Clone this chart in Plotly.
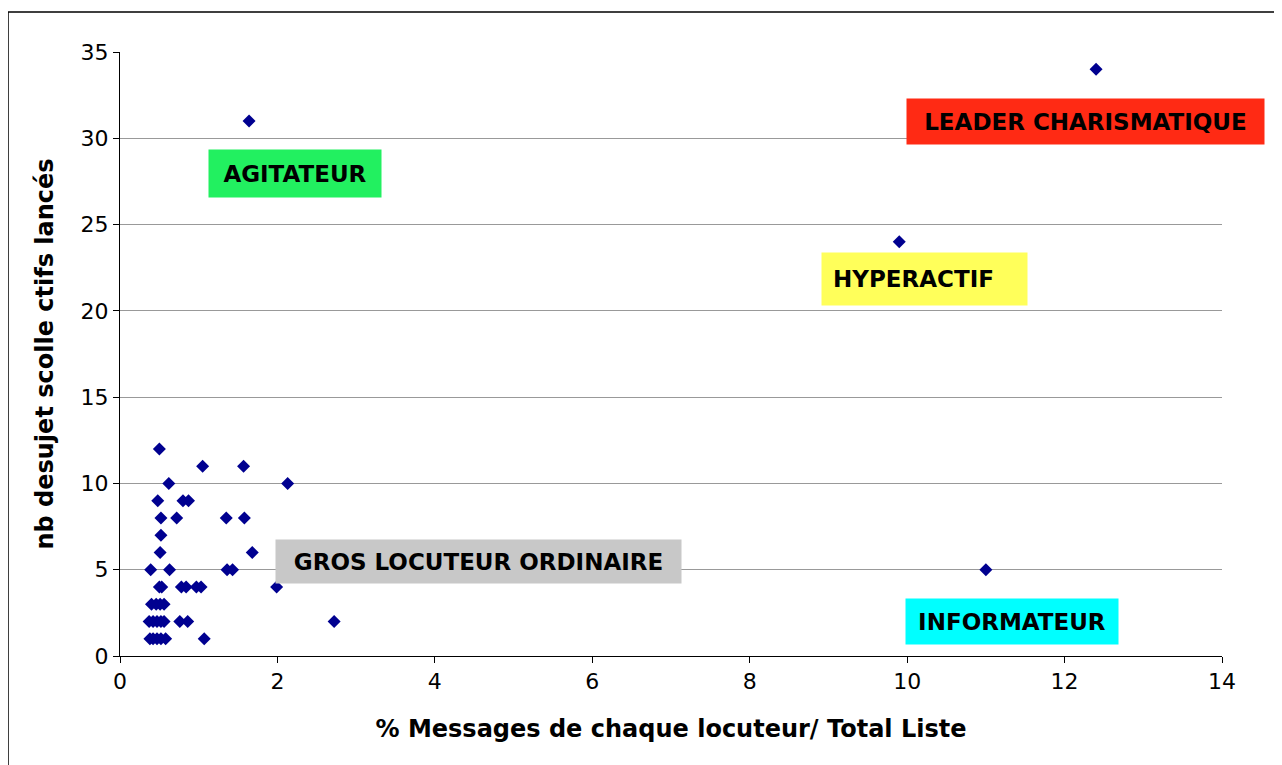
import plotly.graph_objects as go

# Data
x_vals = [
    1.64, 12.40, 9.90, 11.00,
    0.50,
    1.05, 1.57,
    0.62, 2.13,
    0.48, 0.80, 0.87,
    0.52, 0.72, 1.35, 1.58,
    0.52,
    0.51, 1.68,
    0.39, 0.63, 1.36, 1.43,
    0.50, 0.53, 0.78, 0.84, 0.97, 1.03, 1.99,
    0.40, 0.46, 0.51, 0.56,
    0.37, 0.42, 0.47, 0.52, 0.56, 0.76, 0.86, 2.72,
    0.38, 0.42, 0.47, 0.52, 0.58, 1.07,
]
y_vals = [
    31, 34, 24, 5,
    12,
    11, 11,
    10, 10,
    9, 9, 9,
    8, 8, 8, 8,
    7,
    6, 6,
    5, 5, 5, 5,
    4, 4, 4, 4, 4, 4, 4,
    3, 3, 3, 3,
    2, 2, 2, 2, 2, 2, 2, 2,
    1, 1, 1, 1, 1, 1,
]

labels = ["AGITATEUR", "LEADER CHARISMATIQUE", "HYPERACTIF", "INFORMATEUR", "GROS LOCUTEUR ORDINAIRE"]
label_x = [2.22, 12.26, 10.22, 11.33, 4.56]
label_y = [27.98, 30.97, 21.84, 2.0, 5.45]
label_colors = ["#22f060", "#ff2a14", "#ffff5a", "#00ffff", "#c8c8c8"]

x_ticks = [0, 2, 4, 6, 8, 10, 12, 14]
y_ticks = [0, 5, 10, 15, 20, 25, 30, 35]

FONT = "DejaVu Sans"

fig = go.Figure()
fig.add_trace(go.Scatter(
    x=x_vals, y=y_vals, mode="markers",
    marker=dict(symbol="diamond", size=10, color="#000090"),
    showlegend=False, hoverinfo="x+y",
))

box_sizes = [(172, 47), (357, 45), (205, 52), (212, 45), (405, 43)]
for t, lx, ly, c, (w, h) in zip(labels, label_x, label_y, label_colors, box_sizes):
    txt = "<b>" + t + "</b>"
    if t == "HYPERACTIF":
        txt += "&nbsp;" * 3
    fig.add_annotation(
        x=lx, y=ly, xref="x", yref="y", text=txt, showarrow=False,
        bgcolor=c, width=w, height=h, borderpad=0,
        align="center",
        font=dict(family=FONT, size=23, color="black"),
    )

fig.update_layout(
    width=1274, height=757,
    margin=dict(l=112, r=60, t=44, b=109),
    paper_bgcolor="white", plot_bgcolor="white",
    font=dict(family=FONT, color="black"),
    xaxis=dict(
        range=[0, 14], tickvals=x_ticks, showgrid=False, zeroline=False,
        showline=True, linecolor="black", linewidth=1,
        ticks="outside", ticklen=6, tickcolor="black",
        tickfont=dict(size=22),
        title=dict(text="<b>% Messages de chaque locuteur/ Total Liste</b>", font=dict(size=24), standoff=26),
    ),
    yaxis=dict(
        range=[0, 35], tickvals=y_ticks, showgrid=True, gridcolor="#999999", gridwidth=1,
        zeroline=False, showline=True, linecolor="black", linewidth=1,
        ticks="outside", ticklen=6, tickcolor="black",
        tickfont=dict(size=22),
        title=dict(text="<b>nb desujet scolle ctifs lancés</b>", font=dict(size=24), standoff=20),
    ),
    shapes=[dict(type="rect", xref="paper", yref="paper",
                 x0=(8 - 120) / 1102, x1=(1279 - 120) / 1102,
                 y0=(656 - 775) / 604, y1=(656 - 12) / 604,
                 line=dict(color="black", width=1.5), layer="below")],
)

fig.write_html("out.html")
